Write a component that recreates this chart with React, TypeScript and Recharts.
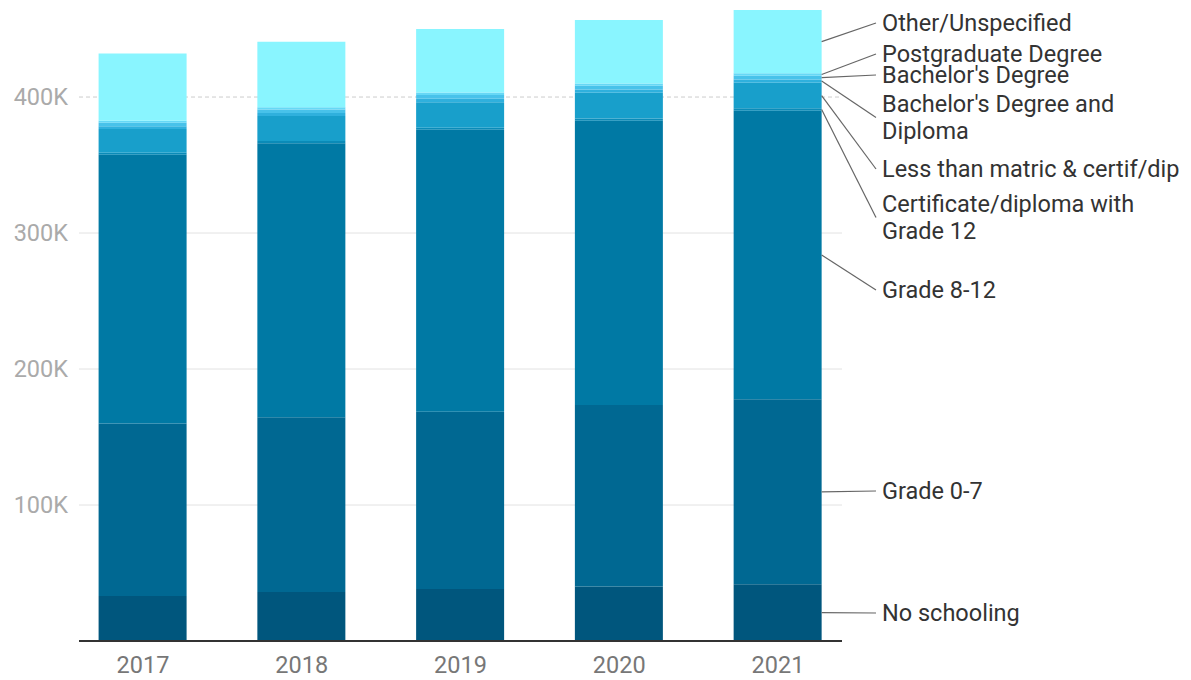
import React from 'react';
import { BarChart, Bar, XAxis, YAxis, CartesianGrid, LabelList } from 'recharts';

const years = [2017, 2018, 2019, 2020, 2021];
const noSchooling = [33000, 36000, 38200, 40000, 41700];
const grade0to7 = [127000, 128500, 130400, 133500, 136000];
const grade8to12 = [197500, 201500, 207300, 209100, 212300];
const certDiplomaGrade12 = [1500, 1600, 1600, 1700, 1700];
const lessThanMatric = [17500, 18400, 18600, 18900, 18800];
const bachelorAndDiploma = [2000, 2200, 2600, 2400, 2400];
const bachelor = [2500, 2600, 2800, 2700, 2800];
const postgraduate = [1500, 1600, 1800, 1700, 1700];
const otherUnspecified = [49500, 48300, 46800, 46600, 46600];
const yTicks = [100000, 200000, 300000, 400000];
const solidGridValues = [100000, 200000, 300000];
const dashedGridValues = [400000];

const series = [
  { key: 'noSchooling', name: 'No schooling', values: noSchooling, color: '#00567d' },
  { key: 'grade0to7', name: 'Grade 0-7', values: grade0to7, color: '#006892' },
  { key: 'grade8to12', name: 'Grade 8-12', values: grade8to12, color: '#0079a4' },
  { key: 'cert', name: 'Certificate/diploma with Grade 12', values: certDiplomaGrade12, color: '#0a8bb8' },
  { key: 'less', name: 'Less than matric & certif/dip', values: lessThanMatric, color: '#189fcb' },
  { key: 'bachDip', name: "Bachelor's Degree and Diploma", values: bachelorAndDiploma, color: '#2fb0dd' },
  { key: 'bach', name: "Bachelor's Degree", values: bachelor, color: '#48c2ea' },
  { key: 'post', name: 'Postgraduate Degree', values: postgraduate, color: '#66d8f6' },
  { key: 'other', name: 'Other/Unspecified', values: otherUnspecified, color: '#89f5ff' },
];

// annotation layout (label text lines and their vertical centre on the page)
const labelLayout: Record<string, { lines: string[]; y: number }> = {
  other: { lines: ['Other/Unspecified'], y: 23 },
  post: { lines: ['Postgraduate Degree'], y: 54 },
  bach: { lines: ["Bachelor's Degree"], y: 75 },
  bachDip: { lines: ["Bachelor's Degree and", 'Diploma'], y: 117.5 },
  less: { lines: ['Less than matric & certif/dip'], y: 169 },
  cert: { lines: ['Certificate/diploma with', 'Grade 12'], y: 217.5 },
  grade8to12: { lines: ['Grade 8-12'], y: 290 },
  grade0to7: { lines: ['Grade 0-7'], y: 491 },
  noSchooling: { lines: ['No schooling'], y: 613 },
};

const data = years.map((year, i) => {
  const row: Record<string, number> = { year };
  series.forEach((s) => {
    row[s.key] = s.values[i];
  });
  return row;
});

const FONT = 'Roboto, "Noto Sans", sans-serif';
const LABEL_X = 882;
const LINE_GAP = 27.5;

const makeLabel = (key: string) => (props: any) => {
  const idx = props.index;
  if (idx !== years.length - 1) return null;
  const vb = props.viewBox || props;
  const x = Number(vb.x ?? props.x);
  const y = Number(vb.y ?? props.y);
  const w = Number(vb.width ?? props.width);
  const h = Number(vb.height ?? props.height);
  const layout = labelLayout[key];
  const startX = x + w;
  const startY = y + h / 2;
  const n = layout.lines.length;
  return (
    <g>
      <line x1={startX} y1={startY} x2={LABEL_X - 6} y2={layout.y} stroke="#666" strokeWidth={1.2} />
      <text x={LABEL_X} y={layout.y} fontFamily={FONT} fontSize={23.5} fill="#333">
        {layout.lines.map((ln, i) => (
          <tspan key={i} x={LABEL_X} y={layout.y + (i - (n - 1) / 2) * LINE_GAP} dominantBaseline="central">
            {ln}
          </tspan>
        ))}
      </text>
    </g>
  );
};

export default function App() {
  return (
    <div style={{ position: 'absolute', left: 0, top: 0, fontFamily: FONT }}>
      <BarChart
        width={1191}
        height={680}
        data={data}
        margin={{ top: 10, right: 349, bottom: 0, left: 0 }}
      >
        <CartesianGrid
          vertical={false}
          horizontalValues={solidGridValues}
          stroke="#e2e2e2"
          strokeWidth={1}
        />
        <CartesianGrid
          vertical={false}
          horizontalValues={dashedGridValues}
          stroke="#cccccc"
          strokeDasharray="4 3"
          strokeWidth={1}
        />
        <XAxis
          type="number"
          dataKey="year"
          domain={[2016.597, 2021.403]}
          ticks={years}
          tickFormatter={(v: number) => String(v)}
          height={39}
          tickLine={false}
          tickSize={0}
          tickMargin={15}
          axisLine={{ stroke: '#333', strokeWidth: 2 }}
          tick={{ fill: '#777', fontSize: 23.5, fontFamily: FONT }}
        />
        <YAxis
          type="number"
          domain={[0, 'dataMax']}
          ticks={yTicks}
          width={79}
          tickFormatter={(v: number) => `${v / 1000}K`}
          axisLine={false}
          tickLine={false}
          tickSize={0}
          tickMargin={11}
          tick={{ fill: '#aaa', fontSize: 23.5, fontFamily: FONT }}
        />
        {series.map((s) => (
          <Bar
            key={s.key}
            dataKey={s.key}
            name={s.name}
            stackId="a"
            fill={s.color}
            barSize={88}
            isAnimationActive={false}
          >
            <LabelList dataKey={s.key} content={makeLabel(s.key)} />
          </Bar>
        ))}
      </BarChart>
    </div>
  );
}
